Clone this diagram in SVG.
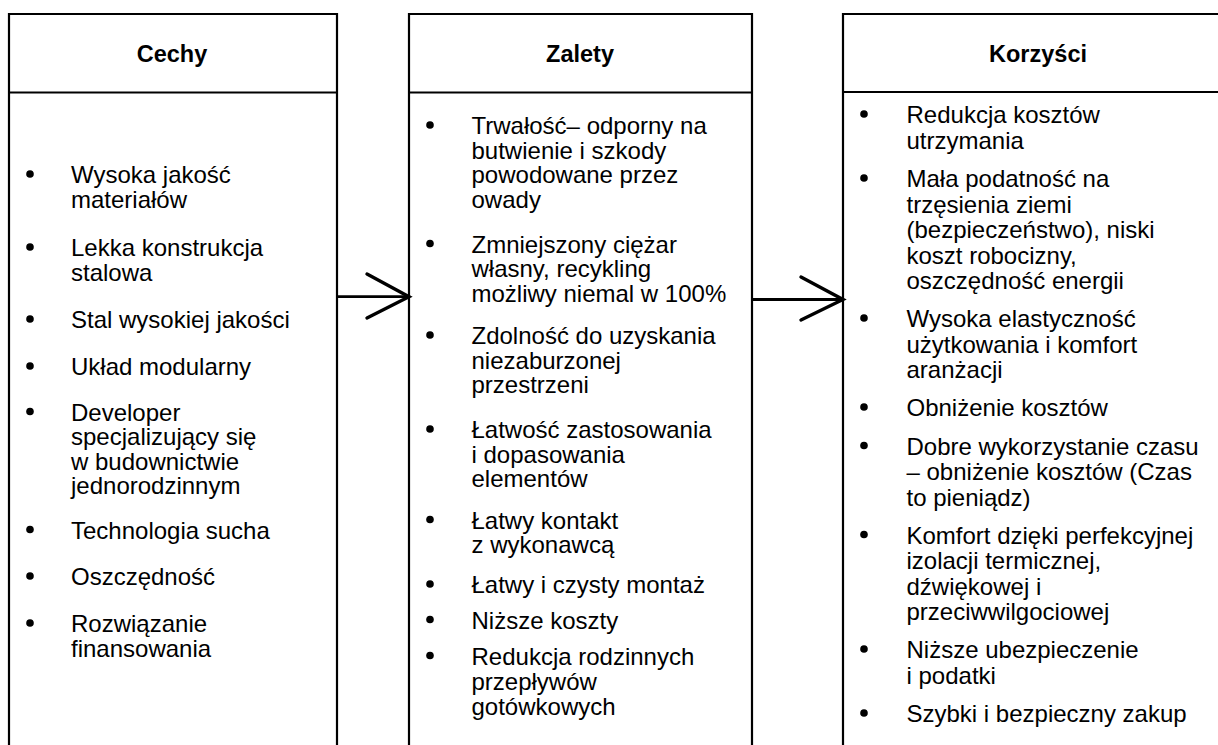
<svg xmlns="http://www.w3.org/2000/svg" width="1218" height="745" viewBox="0 0 1218 745">
<style>
.box{fill:none;stroke:#000;stroke-width:2.2}
.hd{font-family:"Liberation Sans",Arial,sans-serif;font-size:23.5px;font-weight:bold;fill:#000;text-anchor:middle}
.tx{font-family:"Liberation Sans",Arial,sans-serif;font-size:24px;fill:#000}
.bl{fill:#000}
.shaft{stroke:#000;stroke-width:2.8;fill:none}
.head{stroke:#000;stroke-width:3.4;fill:none;stroke-linecap:round;stroke-linejoin:miter}
</style>
<rect width="1218" height="745" fill="#fff"/>
<g id="cechy">
<path class="box" d="M9,745 V14 H337 V745 M9,92.5 H337"/>
<text class="hd" x="172" y="61.5">Cechy</text>
<g class="bl"><circle cx="30" cy="174" r="3.8"/><circle cx="30" cy="247" r="3.8"/><circle cx="30" cy="319" r="3.8"/><circle cx="30" cy="366" r="3.8"/><circle cx="30" cy="411.5" r="3.8"/><circle cx="30" cy="529.5" r="3.8"/><circle cx="30" cy="576" r="3.8"/><circle cx="30" cy="623" r="3.8"/></g>
<text class="tx"><tspan x="71" y="183">Wysoka jakość</tspan><tspan x="71" y="207.5">materiałów</tspan></text>
<text class="tx"><tspan x="71" y="256">Lekka konstrukcja</tspan><tspan x="71" y="280.5">stalowa</tspan></text>
<text class="tx" x="71" y="328">Stal wysokiej jakości</text>
<text class="tx" x="71" y="375">Układ modularny</text>
<text class="tx"><tspan x="71" y="420.5">Developer</tspan><tspan x="71" y="445">specjalizujący się</tspan><tspan x="71" y="469.5">w budownictwie</tspan><tspan x="71" y="494">jednorodzinnym</tspan></text>
<text class="tx" x="71" y="538.5">Technologia sucha</text>
<text class="tx" x="71" y="585">Oszczędność</text>
<text class="tx"><tspan x="71" y="632">Rozwiązanie</tspan><tspan x="71" y="656.5">finansowania</tspan></text>
</g>
<g id="zalety">
<path class="box" d="M409,745 V14 H752 V745 M409,92.5 H752"/>
<text class="hd" x="580" y="61.5">Zalety</text>
<g class="bl"><circle cx="430" cy="125" r="3.8"/><circle cx="430" cy="243.5" r="3.8"/><circle cx="430" cy="335" r="3.8"/><circle cx="430" cy="429" r="3.8"/><circle cx="430" cy="519.5" r="3.8"/><circle cx="430" cy="584" r="3.8"/><circle cx="430" cy="619.5" r="3.8"/><circle cx="430" cy="655.5" r="3.8"/></g>
<text class="tx"><tspan x="471.5" y="134">Trwałość– odporny na</tspan><tspan x="471.5" y="158.5">butwienie i szkody</tspan><tspan x="471.5" y="183">powodowane przez</tspan><tspan x="471.5" y="207.5">owady</tspan></text>
<text class="tx"><tspan x="471.5" y="252.5">Zmniejszony ciężar</tspan><tspan x="471.5" y="277">własny, recykling</tspan><tspan x="471.5" y="301.5">możliwy niemal w 100%</tspan></text>
<text class="tx"><tspan x="471.5" y="344">Zdolność do uzyskania</tspan><tspan x="471.5" y="368.5">niezaburzonej</tspan><tspan x="471.5" y="393">przestrzeni</tspan></text>
<text class="tx"><tspan x="471.5" y="438">Łatwość zastosowania</tspan><tspan x="471.5" y="462.5">i dopasowania</tspan><tspan x="471.5" y="487">elementów</tspan></text>
<text class="tx"><tspan x="471.5" y="528.5">Łatwy kontakt</tspan><tspan x="471.5" y="553">z wykonawcą</tspan></text>
<text class="tx" x="471.5" y="593">Łatwy i czysty montaż</text>
<text class="tx" x="471.5" y="628.5">Niższe koszty</text>
<text class="tx"><tspan x="471.5" y="664.5">Redukcja rodzinnych</tspan><tspan x="471.5" y="689.5">przepływów</tspan><tspan x="471.5" y="714.5">gotówkowych</tspan></text>
</g>
<g id="korzysci">
<path class="box" d="M843,745 V14 H1218 M843,92 H1218"/>
<text class="hd" x="1038" y="61.5">Korzyści</text>
<g class="bl"><circle cx="864" cy="114" r="3.8"/><circle cx="864" cy="178" r="3.8"/><circle cx="864" cy="318" r="3.8"/><circle cx="864" cy="407" r="3.8"/><circle cx="864" cy="445.5" r="3.8"/><circle cx="864" cy="534.5" r="3.8"/><circle cx="864" cy="649" r="3.8"/><circle cx="864" cy="713" r="3.8"/></g>
<text class="tx"><tspan x="906.5" y="123">Redukcja kosztów</tspan><tspan x="906.5" y="148.5">utrzymania</tspan></text>
<text class="tx"><tspan x="906.5" y="187">Mała podatność na</tspan><tspan x="906.5" y="212.5">trzęsienia ziemi</tspan><tspan x="906.5" y="238">(bezpieczeństwo), niski</tspan><tspan x="906.5" y="263.5">koszt robocizny,</tspan><tspan x="906.5" y="289">oszczędność energii</tspan></text>
<text class="tx"><tspan x="906.5" y="327">Wysoka elastyczność</tspan><tspan x="906.5" y="352.5">użytkowania i komfort</tspan><tspan x="906.5" y="378">aranżacji</tspan></text>
<text class="tx" x="906.5" y="416">Obniżenie kosztów</text>
<text class="tx"><tspan x="906.5" y="454.5">Dobre wykorzystanie czasu</tspan><tspan x="906.5" y="480">– obniżenie kosztów (Czas</tspan><tspan x="906.5" y="505.5">to pieniądz)</tspan></text>
<text class="tx"><tspan x="906.5" y="543.5">Komfort dzięki perfekcyjnej</tspan><tspan x="906.5" y="569">izolacji termicznej,</tspan><tspan x="906.5" y="594.5">dźwiękowej i</tspan><tspan x="906.5" y="620">przeciwwilgociowej</tspan></text>
<text class="tx"><tspan x="906.5" y="658">Niższe ubezpieczenie</tspan><tspan x="906.5" y="683.5">i podatki</tspan></text>
<text class="tx" x="906.5" y="722">Szybki i bezpieczny zakup</text>
</g>
<g id="connectors">
<path class="shaft" d="M337,296.7 H408"/>
<path class="head" d="M367,274 L409,296.7 L367,318"/>
<path class="shaft" d="M752,299.5 H843"/>
<path class="head" d="M801,277 L843,299.5 L801,320"/>
</g>
</svg>
